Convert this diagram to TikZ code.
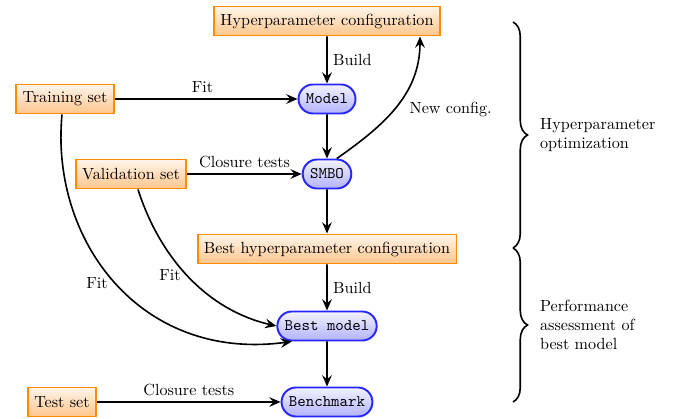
\documentclass[tikz,border=0pt]{standalone}
\usetikzlibrary{arrows.meta,shapes.misc,decorations.pathreplacing,positioning}
\begin{document}
\begin{tikzpicture}[x=0.62pt,y=-0.62pt,
  databox/.style={draw=orange!90!yellow, line width=1.2pt, top color=orange!8, bottom color=orange!45, inner sep=4pt, minimum height=18pt},
  procbox/.style={rounded rectangle, draw=blue!85, line width=1.2pt, top color=blue!5, bottom color=blue!30, font=\ttfamily, inner sep=4pt, minimum height=18pt},
  conn/.style={line width=1pt, -{Stealth[length=7pt,width=6pt,inset=2.5pt]}},
  lbl/.style={font=\normalsize}]
\useasboundingbox (0,0) rectangle (675,418);
\node[databox] (hc) at (327,21) {Hyperparameter configuration};
\node[procbox] (model) at (327,99) {Model};
\node[databox] (train) at (65,99) {Training set};
\node[databox] (val) at (131,174) {Validation set};
\node[procbox] (smbo) at (327,174) {SMBO};
\node[databox] (bhc) at (327,249) {Best hyperparameter configuration};
\node[procbox] (bmodel) at (327,326) {Best model};
\node[databox] (test) at (62,402) {Test set};
\node[procbox] (bench) at (327,402) {Benchmark};

\draw[conn] (hc) -- node[right,lbl] {Build} (model);
\draw[conn] (train) -- node[above,lbl,pos=0.48] {Fit} (model);
\draw[conn] (model) -- (smbo);
\draw[conn] (val) -- node[above,lbl] {Closure tests} (smbo);
\draw[conn] (smbo.north east) to[out=35,in=-90] (hc.south east -| 420,0);
\node[right,lbl] (nclbl) at (404,109) {New config.};
\draw[conn] (smbo) -- (bhc);
\draw[conn] (bhc) -- node[right,lbl] {Build} (bmodel);
\draw[conn] (train.south -| 62,0) .. controls (50,240) and (140,362) .. (bmodel.south west);
\node[lbl] (fit1) at (97,283) {Fit};
\draw[conn] (val.south -| 138,0) .. controls (160,258) and (207,310) .. (bmodel.west);
\node[lbl] (fit2) at (170,275) {Fit};
\draw[conn] (bmodel) -- (bench);
\draw[conn] (test) -- node[above,lbl] {Closure tests} (bench);

\coordinate (b1t) at (513,22);
\coordinate (b1b) at (513,248);
\coordinate (b2b) at (513,402);
\draw[line width=1pt, decorate, decoration={brace, amplitude=9pt}] (b1t) -- (b1b) node[midway, right=13pt, align=left, lbl] (l1) {Hyperparameter\\optimization};
\draw[line width=1pt, decorate, decoration={brace, amplitude=9pt}] (b1b) -- (b2b) node[midway, right=13pt, align=left, lbl] (l2) {Performance\\assessment of\\best model};
\end{tikzpicture}
\end{document}
